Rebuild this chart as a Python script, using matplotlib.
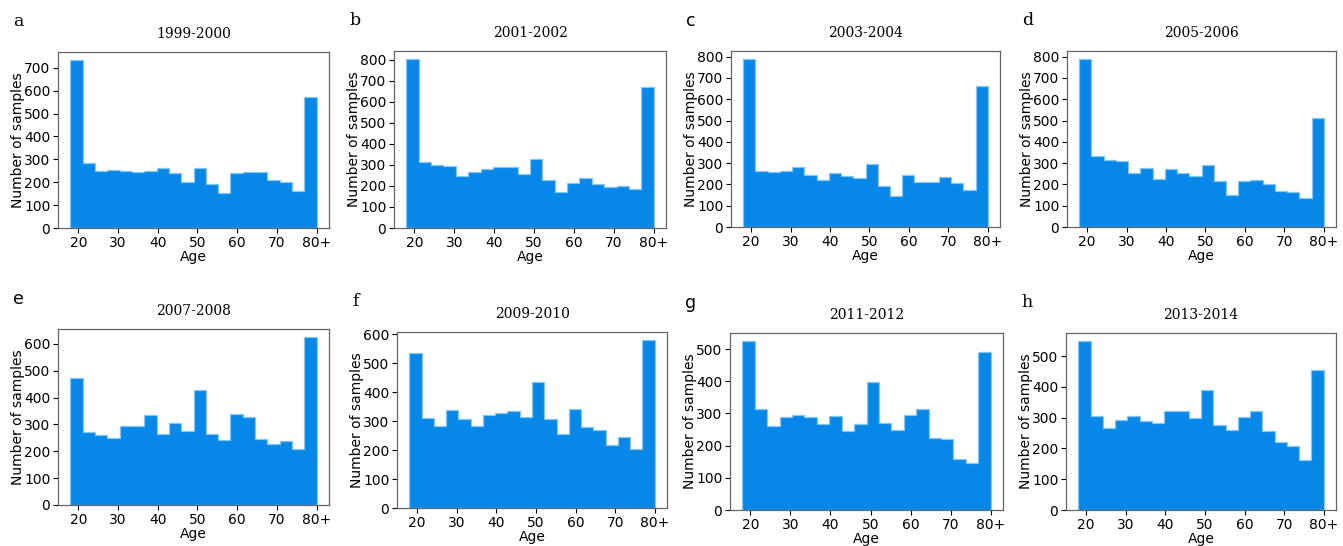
import numpy as np
import matplotlib
matplotlib.use("Agg")
import matplotlib.pyplot as plt
from matplotlib.ticker import MultipleLocator

# age histogram: 20 bins from 18 to 80 (last bin is 80+)
edges = np.linspace(18, 80, 21)
xticks = [20, 30, 40, 50, 60, 70, 80]
xticklabels = ["20", "30", "40", "50", "60", "70", "80+"]

periods = ["1999-2000", "2001-2002", "2003-2004", "2005-2006",
           "2007-2008", "2009-2010", "2011-2012", "2013-2014"]
letters = ["a", "b", "c", "d", "e", "f", "g", "h"]

counts_1999 = [732, 283, 251, 255, 251, 244, 248, 261, 242, 201,
               264, 191, 152, 241, 246, 246, 211, 201, 162, 572]
counts_2001 = [801, 312, 300, 296, 246, 266, 278, 291, 289, 256,
               329, 226, 172, 215, 238, 210, 194, 200, 186, 671]
counts_2003 = [787, 264, 259, 262, 280, 242, 219, 252, 238, 230,
               294, 192, 144, 242, 211, 211, 234, 206, 175, 664]
counts_2005 = [787, 332, 313, 311, 252, 277, 225, 274, 252, 239,
               293, 214, 152, 214, 219, 202, 171, 163, 138, 510]
counts_2007 = [474, 273, 259, 251, 295, 295, 335, 265, 304, 276,
               429, 266, 241, 339, 327, 245, 228, 238, 210, 624]
counts_2009 = [533, 309, 283, 337, 306, 283, 322, 328, 334, 314,
               434, 306, 254, 340, 280, 270, 217, 244, 202, 578]
counts_2011 = [524, 315, 260, 289, 294, 290, 267, 292, 246, 267,
               398, 271, 249, 295, 314, 225, 222, 157, 146, 491]
counts_2013 = [548, 304, 267, 293, 304, 290, 283, 323, 323, 300,
               389, 275, 261, 302, 323, 258, 220, 207, 162, 456]

all_counts = [counts_1999, counts_2001, counts_2003, counts_2005,
              counts_2007, counts_2009, counts_2011, counts_2013]

# axes boxes in pixels: left, right, top, bottom
boxes = [(58, 329, 52, 228), (394, 666, 51, 228), (731, 1000, 51, 227), (1067, 1336, 51, 227),
         (58, 329, 329, 505), (397, 667, 332, 508), (730, 1003, 333, 510), (1066, 1336, 333, 510)]
serif_letter = [True, True, False, True, False, True, False, True]

W, H = 1343, 546
fig = plt.figure(figsize=(W / 100, H / 100), dpi=100)

for i in range(8):
    l, r, t, b = boxes[i]
    ax = fig.add_axes([l / W, 1 - b / H, (r - l) / W, (b - t) / H])
    ax.hist(edges[:-1], bins=edges, weights=all_counts[i], histtype="stepfilled",
            facecolor="#0788e8", edgecolor="#86c6f4", linewidth=0.9)
    ax.set_xticks(xticks)
    ax.set_xticklabels(xticklabels)
    ax.yaxis.set_major_locator(MultipleLocator(100))
    ax.tick_params(labelsize=10, length=3.5, width=0.8, pad=2)
    ax.set_xlabel("Age", fontsize=10, labelpad=0)
    ax.set_ylabel("Number of samples", fontsize=10, labelpad=-1)
    ax.set_title(periods[i], fontsize=10, family="DejaVu Serif", pad=10)
    for s in ax.spines.values():
        s.set_color("#666666")
        s.set_linewidth(0.9)
    fam = "DejaVu Serif" if serif_letter[i] else "DejaVu Sans"
    fig.text((l - 45) / W, 1 - (t - 39) / H, letters[i], fontsize=12.5,
             family=fam, va="top", ha="left")

fig.savefig("out.png", dpi=100)
